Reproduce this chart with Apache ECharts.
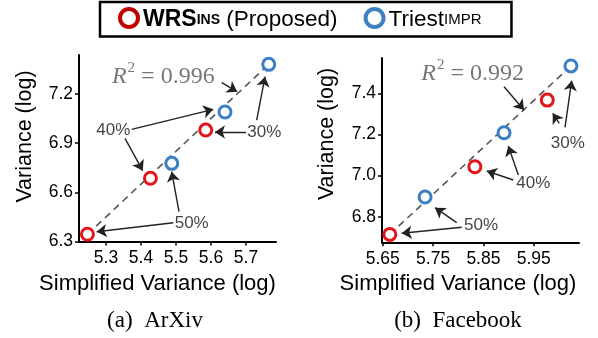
<!DOCTYPE html>
<html><head><meta charset="utf-8">
<script src="https://cdn.jsdelivr.net/npm/echarts@6/dist/echarts.min.js"></script>
<style>html,body{margin:0;padding:0;background:#fff}#c{width:598px;height:338px}</style>
</head><body><div id="c"></div>
<script>
// ---- data (ArXiv) ----
const wrsA = [[5.247, 6.344], [5.427, 6.686], [5.585, 6.980]];
const triA = [[5.488, 6.777], [5.640, 7.090], [5.765, 7.381]];
const fitA = [[5.247, 6.344], [5.765, 7.381]];
const r2A = '0.996';
// ---- data (Facebook) ----
const wrsB = [[5.664, 6.714], [5.833, 7.043], [5.977, 7.367]];
const triB = [[5.734, 6.896], [5.891, 7.208], [6.024, 7.533]];
const fitB = [[5.664, 6.714], [6.024, 7.533]];
const r2B = '0.992';
// ---- tick labels ----
const xTicksA = [5.3, 5.4, 5.5, 5.6, 5.7];
const yTicksA = [6.3, 6.6, 6.9, 7.2];
const xTicksB = [5.65, 5.75, 5.85, 5.95];
const yTicksB = [6.8, 7.0, 7.2, 7.4];
// ---- annotation texts & arrows (data coords) ----
const notesA = [
  {name: 'R2', at: [5.4637, 7.316]},
  {name: '40%', at: [5.3209, 6.980]},
  {name: '30%', at: [5.7523, 6.9638]},
  {name: '50%', at: [5.5449, 6.411]}
];
const arrowsA = [
  [[5.6306, 7.269], [5.6749, 7.214]],
  [[5.3734, 6.9846], [5.6066, 7.1066]],
  [[5.3543, 6.9297], [5.4049, 6.732]],
  [[5.7000, 6.968], [5.6114, 6.968]],
  [[5.7306, 7.0413], [5.7543, 7.3055]],
  [[5.4923, 6.4147], [5.2734, 6.3598]],
  [[5.5086, 6.4818], [5.4877, 6.7259]]
];
const notesB = [
  {name: 'R2', at: [5.8287, 7.505]},
  {name: '30%', at: [6.0176, 7.1569]},
  {name: '40%', at: [5.9492, 6.9624]},
  {name: '50%', at: [5.8452, 6.7562]}
];
const arrowsB = [
  [[5.8910, 7.432], [5.9307, 7.3185]],
  [[6.0122, 7.2347], [6.0255, 7.4613]],
  [[6.0009, 7.2541], [5.9878, 7.3027]],
  [[5.9194, 7.0028], [5.8995, 7.1438]],
  [[5.9094, 6.9784], [5.8566, 7.0222]],
  [[5.7969, 6.7708], [5.7538, 6.8438]],
  [[5.8069, 6.7485], [5.6876, 6.7193]]
];

const SANS = 'Liberation Sans';
const SERIF = 'Liberation Serif';
const RED = '#e3151b', BLUE = '#3a7fc2';
const NAME_W = 'WRSINS (Proposed)', NAME_T = 'TriestIMPR';

function xAxisCfg(grid, min, max, ticks, dec) {
  return {
    gridIndex: grid, type: 'value', min: min, max: max,
    axisLine: {show: true, onZero: false, lineStyle: {color: '#000', width: 2}},
    axisTick: {show: true, length: 4, customValues: ticks, lineStyle: {color: '#000', width: 1.5}},
    axisLabel: {customValues: ticks, formatter: v => v.toFixed(dec), fontSize: 17.5, color: '#000', fontFamily: SANS, margin: 8},
    splitLine: {show: false}
  };
}
function yAxisCfg(grid, min, max, ticks, dec) {
  return {
    gridIndex: grid, type: 'value', min: min, max: max,
    axisLine: {show: true, onZero: false, lineStyle: {color: '#000', width: 2}},
    axisTick: {show: true, length: 4, customValues: ticks, lineStyle: {color: '#000', width: 1.5}},
    axisLabel: {customValues: ticks, formatter: v => v.toFixed(dec), fontSize: 17.5, color: '#000', fontFamily: SANS, margin: 6},
    splitLine: {show: false}
  };
}
function pointSeries(name, data, color, idx) {
  return {
    type: 'scatter', name: name, xAxisIndex: idx, yAxisIndex: idx, data: data,
    symbol: 'circle', symbolSize: 12, z: 5,
    itemStyle: {color: '#fff', borderColor: color, borderWidth: 3, opacity: 1},
    emphasis: {disabled: true}, silent: true
  };
}
function fitSeries(data, arrows, idx) {
  return {
    type: 'line', xAxisIndex: idx, yAxisIndex: idx, data: data, symbol: 'none', z: 3,
    lineStyle: {color: '#555', width: 1.6, type: [7, 5]}, silent: true,
    markLine: {
      silent: true, symbol: ['none', 'arrow'], symbolSize: 10, animation: false,
      label: {show: false},
      lineStyle: {color: '#222', width: 1.4, type: 'solid'},
      emphasis: {disabled: true},
      data: arrows.map(a => [{coord: a[0]}, {coord: a[1]}])
    }
  };
}
function noteSeries(notes, r2, idx) {
  return {
    type: 'scatter', xAxisIndex: idx, yAxisIndex: idx, symbolSize: 1, silent: true, z: 6,
    itemStyle: {color: 'transparent'},
    label: {show: true, position: 'inside', formatter: '{b}', fontSize: 17, color: '#111', fontFamily: SANS},
    data: notes.map(n => n.name === 'R2' ? {
      name: n.name, value: n.at,
      label: {
        formatter: '{i|R}{s|2}{n| = ' + r2 + '}',
        rich: {
          i: {fontFamily: SERIF, fontStyle: 'italic', fontSize: 24, color: '#555', verticalAlign: 'bottom', lineHeight: 28},
          s: {fontFamily: SERIF, fontSize: 15, color: '#555', verticalAlign: 'top', lineHeight: 28, padding: [0, 0, 10, 1]},
          n: {fontFamily: SERIF, fontSize: 24, color: '#555', verticalAlign: 'bottom', lineHeight: 28}
        }
      }
    } : {name: n.name, value: n.at})
  };
}

const chart = echarts.init(document.getElementById('c'), null, {renderer: 'canvas'});
chart.setOption({
  animation: false,
  backgroundColor: '#fff',
  legend: {
    left: 100, top: 2, padding: [5, 30, 5, 18], itemGap: 26,
    itemWidth: 18, itemHeight: 18, borderColor: '#000', borderWidth: 2.5,
    selectedMode: false,
    data: [
      {name: NAME_W, icon: 'circle', itemStyle: {color: '#fff', borderColor: '#c00000', borderWidth: 4}},
      {name: NAME_T, icon: 'circle', itemStyle: {color: '#fff', borderColor: '#3f80c0', borderWidth: 4}}
    ],
    formatter: n => n === NAME_W ? '{b|WRS}{bs|INS}{n| (Proposed)}' : '{n|Triest}{s|IMPR}',
    textStyle: {
      color: '#000', fontFamily: SANS,
      rich: {
        b: {fontSize: 23, fontWeight: 'bold', fontFamily: SANS, lineHeight: 27, verticalAlign: 'bottom'},
        bs: {fontSize: 14, fontWeight: 'bold', fontFamily: SANS, lineHeight: 20, verticalAlign: 'bottom', padding: [0, 0, 4, 0]},
        n: {fontSize: 22.5, fontFamily: SANS, lineHeight: 27, verticalAlign: 'bottom'},
        s: {fontSize: 15, fontFamily: SANS, lineHeight: 20, verticalAlign: 'bottom', padding: [0, 0, 4, 0]}
      }
    }
  },
  grid: [
    {left: 79, top: 55, width: 197, height: 186.5},
    {left: 382, top: 58, width: 197, height: 184.3}
  ],
  xAxis: [
    xAxisCfg(0, 5.2229, 5.7857, xTicksA, 1),
    xAxisCfg(1, 5.6484, 6.0400, xTicksB, 2)
  ],
  yAxis: [
    yAxisCfg(0, 6.3, 7.438, yTicksA, 1),
    yAxisCfg(1, 6.6755, 7.5716, yTicksB, 1)
  ],
  series: [
    fitSeries(fitA, arrowsA, 0),
    pointSeries(NAME_W, wrsA, RED, 0),
    pointSeries(NAME_T, triA, BLUE, 0),
    noteSeries(notesA, r2A, 0),
    fitSeries(fitB, arrowsB, 1),
    pointSeries(NAME_W, wrsB, RED, 1),
    pointSeries(NAME_T, triB, BLUE, 1),
    noteSeries(notesB, r2B, 1)
  ],
  graphic: [
    {type: 'text', x: 25, y: 136.5, rotation: Math.PI / 2, style: {text: 'Variance (log)', fontSize: 21.5, fontFamily: SANS, fill: '#000', align: 'center', verticalAlign: 'middle', textAlign: 'center', textVerticalAlign: 'middle'}},
    {type: 'text', x: 327, y: 134, rotation: Math.PI / 2, style: {text: 'Variance (log)', fontSize: 21.5, fontFamily: SANS, fill: '#000', align: 'center', verticalAlign: 'middle', textAlign: 'center', textVerticalAlign: 'middle'}},
    {type: 'text', x: 157.5, y: 284, style: {text: 'Simplified Variance (log)', fontSize: 22, fontFamily: SANS, fill: '#000', align: 'center', verticalAlign: 'middle', textAlign: 'center', textVerticalAlign: 'middle'}},
    {type: 'text', x: 458, y: 284, style: {text: 'Simplified Variance (log)', fontSize: 22, fontFamily: SANS, fill: '#000', align: 'center', verticalAlign: 'middle', textAlign: 'center', textVerticalAlign: 'middle'}},
    {type: 'text', x: 155, y: 321, style: {text: '(a)\u2002ArXiv', fontSize: 23, fontFamily: SERIF, fill: '#000', align: 'center', verticalAlign: 'middle', textAlign: 'center', textVerticalAlign: 'middle'}},
    {type: 'text', x: 458, y: 321, style: {text: '(b)\u2002Facebook', fontSize: 23, fontFamily: SERIF, fill: '#000', align: 'center', verticalAlign: 'middle', textAlign: 'center', textVerticalAlign: 'middle'}}
  ]
});
</script>
</body></html>
